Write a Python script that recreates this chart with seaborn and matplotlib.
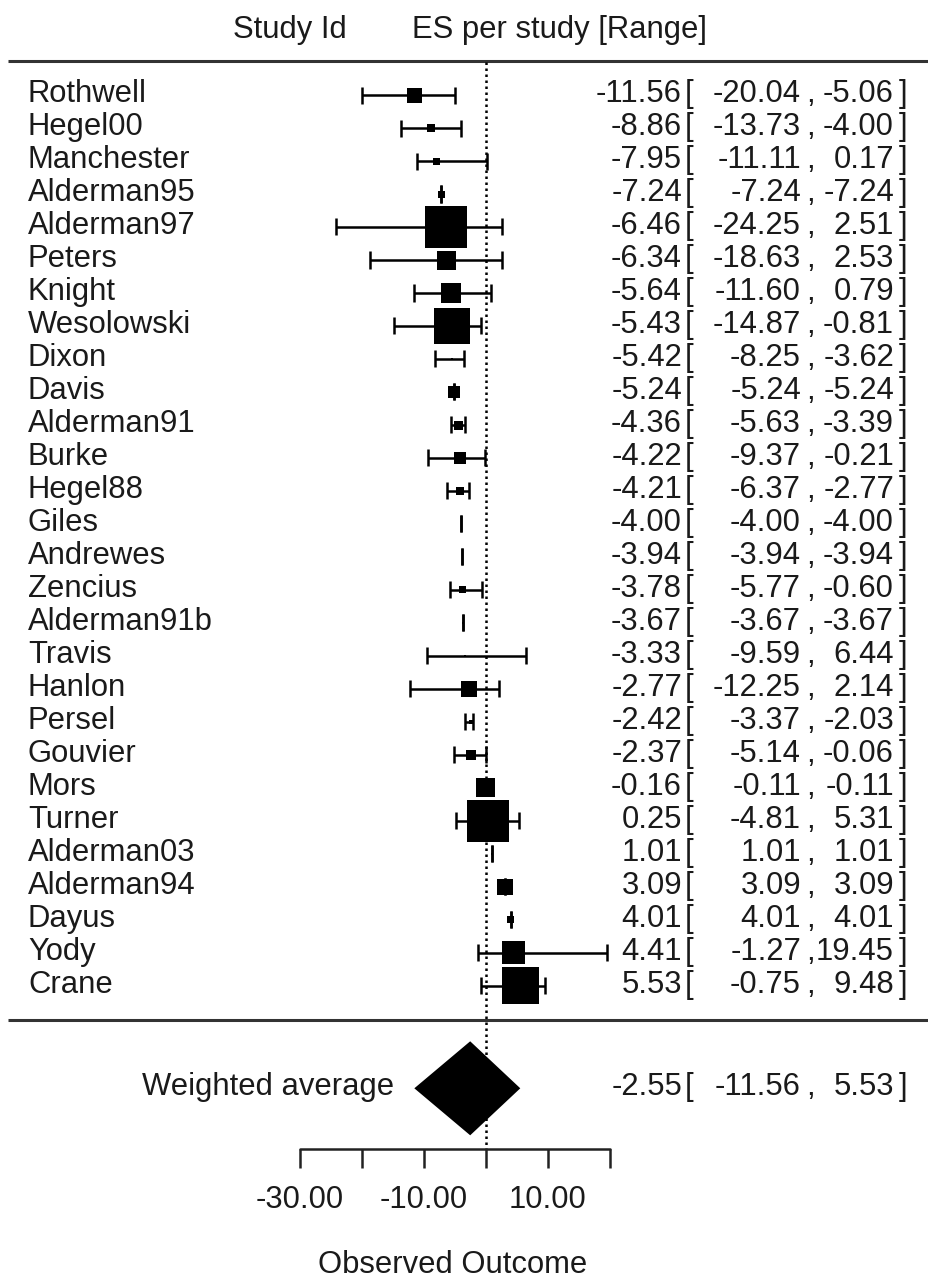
import numpy as np
import pandas as pd
import matplotlib
matplotlib.use("Agg")
import matplotlib.pyplot as plt
import seaborn as sns
from matplotlib.transforms import blended_transform_factory

# ----------------------------
# DATA
# ----------------------------

studies = ["Rothwell", "Hegel00", "Manchester", "Alderman95", "Alderman97",
           "Peters", "Knight", "Wesolowski", "Dixon", "Davis", "Alderman91",
           "Burke", "Hegel88", "Giles", "Andrewes", "Zencius", "Alderman91b",
           "Travis", "Hanlon", "Persel", "Gouvier", "Mors", "Turner",
           "Alderman03", "Alderman94", "Dayus", "Yody", "Crane"]

es = [-11.56, -8.86, -7.95, -7.24, -6.46, -6.34, -5.64, -5.43, -5.42, -5.24,
      -4.36, -4.22, -4.21, -4.00, -3.94, -3.78, -3.67, -3.33, -2.77, -2.42,
      -2.37, -0.16, 0.25, 1.01, 3.09, 4.01, 4.41, 5.53]

lower = [-20.04, -13.73, -11.11, -7.24, -24.25, -18.63, -11.60, -14.87, -8.25,
         -5.24, -5.63, -9.37, -6.37, -4.00, -3.94, -5.77, -3.67, -9.59, -12.25,
         -3.37, -5.14, -0.11, -4.81, 1.01, 3.09, 4.01, -1.27, -0.75]

upper = [-5.06, -4.00, 0.17, -7.24, 2.51, 2.53, 0.79, -0.81, -3.62, -5.24,
         -3.39, -0.21, -2.77, -4.00, -3.94, -0.60, -3.67, 6.44, 2.14, -2.03,
         -0.06, -0.11, 5.31, 1.01, 3.09, 4.01, 19.45, 9.48]

# relative study weight (drives box size)
weights = [15, 8, 7, 7, 42, 19, 20, 36, 2, 12, 9, 12, 8, 0.5, 0.5, 7, 2, 2,
           16, 4, 10, 19, 42, 2, 16, 7, 23, 37]

avg_es = -2.55
avg_lo = -11.56
avg_hi = 5.53

ticks = [-30, -20, -10, 0, 10, 20]
tick_labels = [-30, -10, 10]

# ----------------------------
# LAYOUT
# ----------------------------

W, H = 929, 1278
ROW0, ROWH = 95, 33          # pixel y of first row, row spacing
X0, XU = 486, 6.2            # pixel x of zero, pixels per unit

sns.set_style("white")
plt.rcParams["font.family"] = ["Liberation Sans", "DejaVu Sans"]
FS = 22.3
TXT = "#1a1a1a"

df = pd.DataFrame({"study": studies, "es": es, "lo": lower, "hi": upper,
                   "w": weights})
df["row"] = np.arange(len(df))
df["area"] = (df["w"] * 0.72) ** 2

fig = plt.figure(figsize=(W / 100, H / 100), dpi=100)
ax = fig.add_axes([0, 0, 1, 1])
ax.set_xlim(-X0 / XU, (W - X0) / XU)
ax.set_ylim((H - ROW0) / ROWH, -ROW0 / ROWH)
ax.axis("off")

tr = blended_transform_factory(fig.transFigure, ax.transData)
base = 7 / ROWH
summary_row = 30.1

# ----------------------------
# HEADER + SEPARATORS
# ----------------------------

ax.text(290 / W, -1.73, "Study Id", transform=tr, ha="center", va="baseline",
        fontsize=FS, color=TXT)
ax.text(560 / W, -1.73, "ES per study [Range]", transform=tr, ha="center",
        va="baseline", fontsize=FS, color=TXT)

for yline in [-1.03, 28.03]:
    ax.plot([8 / W, 1.0], [yline, yline], transform=tr, color="#333333",
            lw=2.2, solid_capstyle="butt")

ax.plot([0, 0], [-1.0, 31.94], color="black", lw=1.8,
        linestyle=(0, (1, 1.4)))

# ----------------------------
# STUDIES
# ----------------------------

cap = 8.5 / ROWH
ax.hlines(df["row"], df["lo"], df["hi"], color="black", lw=1.8)
ax.vlines(df["lo"], df["row"] - cap, df["row"] + cap, color="black", lw=1.8)
ax.vlines(df["hi"], df["row"] - cap, df["row"] + cap, color="black", lw=1.8)

sns.scatterplot(data=df, x="es", y="row", size="area",
                sizes=(df["area"].min(), df["area"].max()),
                size_norm=(df["area"].min(), df["area"].max()),
                marker="s", color="black", linewidth=0, legend=False,
                zorder=3, ax=ax)


def ci_text(y, e, l, h):
    kw = dict(transform=tr, va="baseline", fontsize=FS, color=TXT)
    ax.text(682 / W, y + base, f"{e:.2f}", ha="right", **kw)
    ax.text(685 / W, y + base, "[", ha="left", **kw)
    ax.text(801 / W, y + base, f"{l:.2f}", ha="right", **kw)
    ax.text(806 / W, y + base, ",", ha="left", **kw)
    ax.text(894 / W, y + base, f"{h:.2f}", ha="right", **kw)
    ax.text(899 / W, y + base, "]", ha="left", **kw)


for _, r in df.iterrows():
    ax.text(28 / W, r["row"] + base, r["study"], transform=tr, ha="left",
            va="baseline", fontsize=FS, color=TXT)
    ci_text(r["row"], r["es"], r["lo"], r["hi"])

# ----------------------------
# SUMMARY
# ----------------------------

dh = 47 / ROWH
ax.fill([avg_lo, avg_es, avg_hi, avg_es],
        [summary_row, summary_row - dh, summary_row, summary_row + dh],
        color="black", lw=0, zorder=3)
ax.text(142 / W, summary_row + base, "Weighted average", transform=tr,
        ha="left", va="baseline", fontsize=FS, color=TXT)
ci_text(summary_row, avg_es, avg_lo, avg_hi)

# ----------------------------
# X AXIS
# ----------------------------

axis_y = 31.94
ax.plot([ticks[0], ticks[-1]], [axis_y, axis_y], color="#222222", lw=1.8)
ax.vlines(ticks, axis_y, axis_y + 19 / ROWH, color="#222222", lw=1.8)
for t in tick_labels:
    ax.text(t, 33.73, f"{t:.2f}", ha="center", va="baseline", fontsize=FS,
            color=TXT)
ax.text(453 / W, 35.7, "Observed Outcome", transform=tr, ha="center",
        va="baseline", fontsize=FS, color=TXT)

plt.savefig("out.png", dpi=100, facecolor="white")
